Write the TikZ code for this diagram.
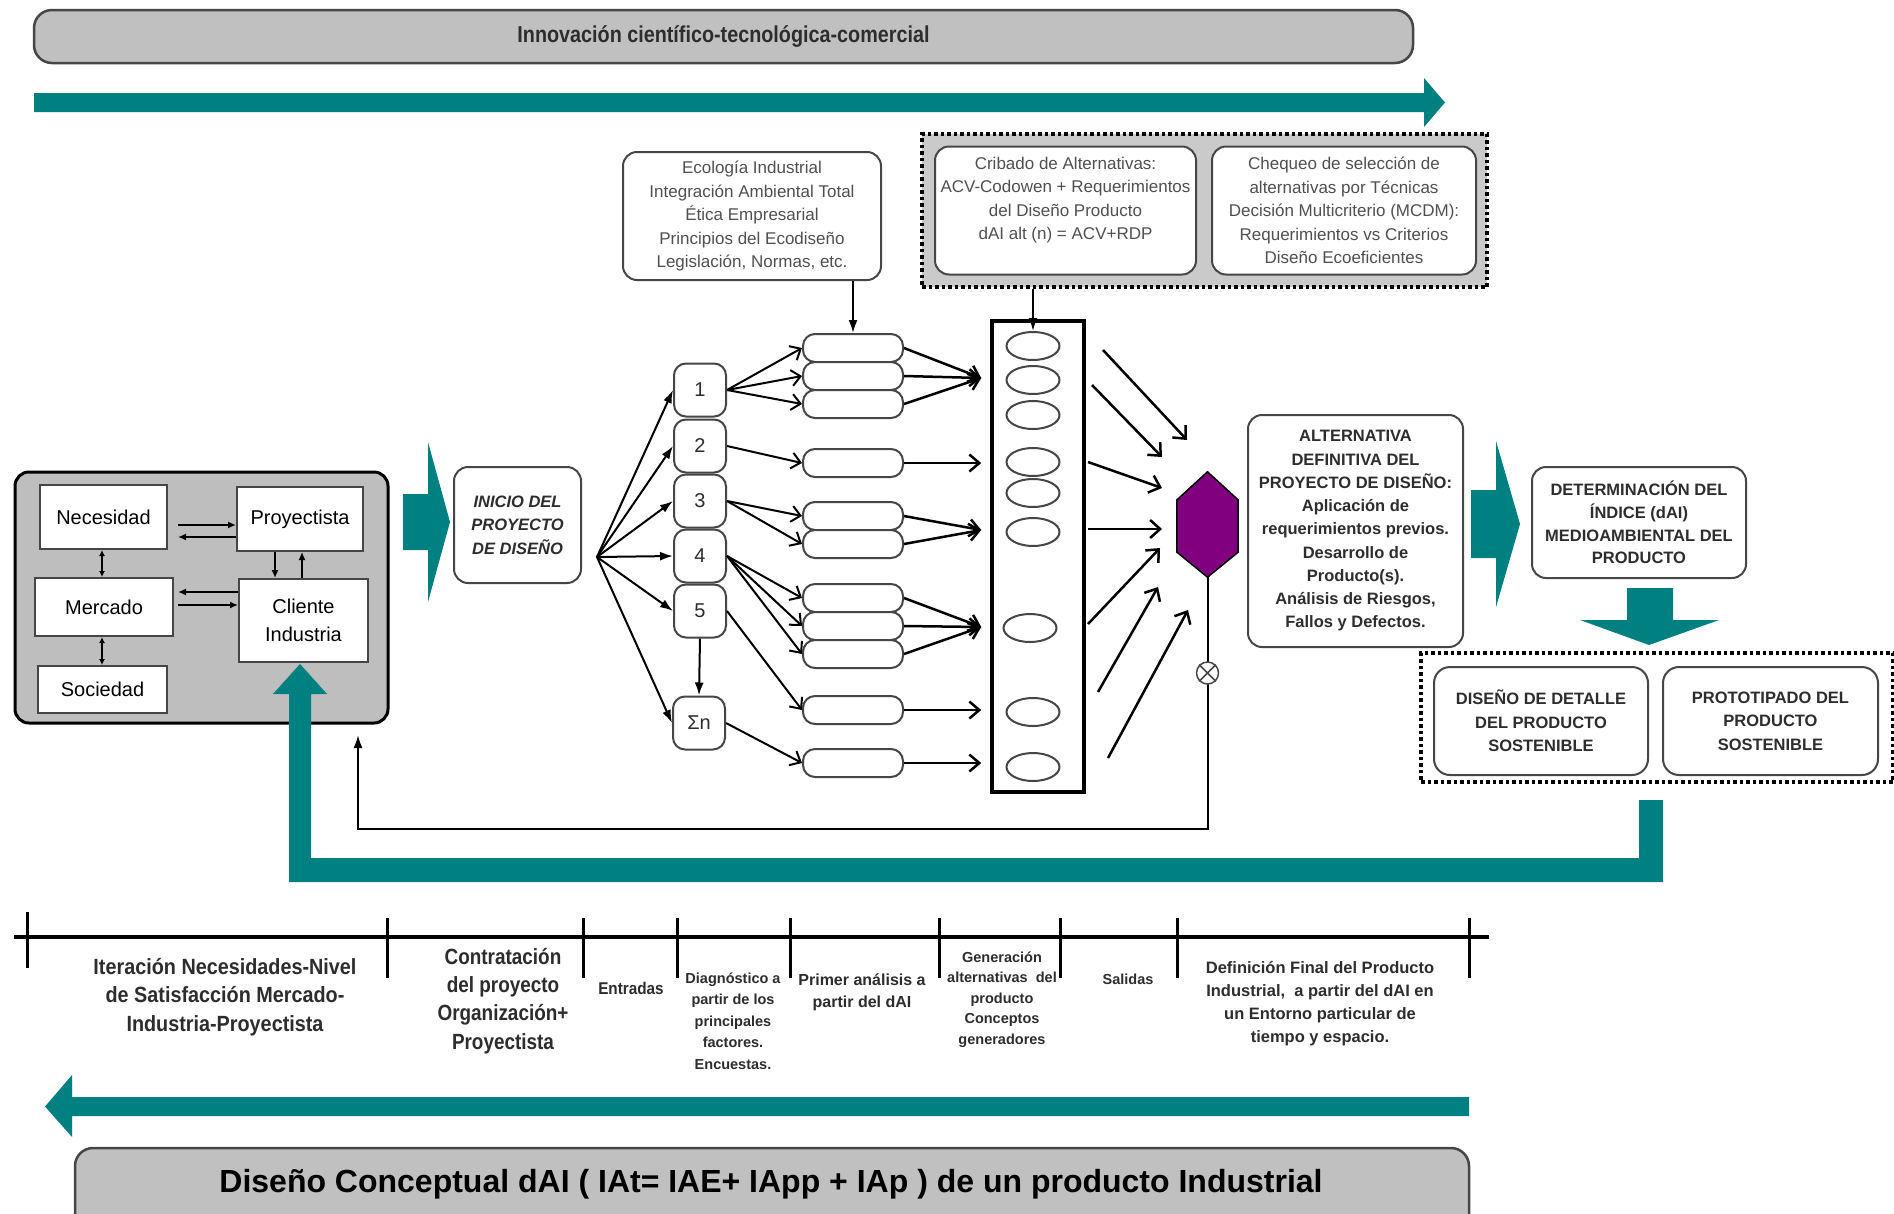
\documentclass[tikz,border=0pt]{standalone}
\usepackage{fontspec}
\setmainfont{Liberation Sans}
\usetikzlibrary{arrows.meta,calc,shapes.geometric}

\definecolor{tealc}{RGB}{0,128,128}
\definecolor{barg}{RGB}{192,192,192}
\definecolor{panelg}{RGB}{190,190,190}
\definecolor{dotg}{RGB}{202,202,202}
\definecolor{ink}{RGB}{45,45,45}
\definecolor{soft}{RGB}{80,80,80}
\definecolor{edge}{RGB}{70,70,70}
\definecolor{hexc}{RGB}{128,0,128}

\newcommand{\fs}[2]{\fontsize{#1}{#2}\selectfont}
\newcommand{\nrw}[2]{\scalebox{#1}[1]{#2}}

\tikzset{
  panel/.style={draw=black, line width=3pt, fill=panelg, rounded corners=14pt, inner sep=0pt},
  wbox/.style={draw=edge, line width=2pt, fill=white, inner sep=0pt},
  rbox/.style={wbox, rounded corners=14pt},
  pill/.style={wbox, rounded corners=12pt, minimum width=100pt, minimum height=28pt},
  numbox/.style={wbox, rounded corners=12pt, minimum width=52pt, minimum height=53pt, font=\fs{20}{24}, text=ink},
  oval/.style={ellipse, draw=edge, line width=2pt, minimum width=53pt, minimum height=28pt, inner sep=0pt},
  thinarr/.style={draw=black, line width=1.5pt, -{Latex[length=8pt,width=7pt]}},
  dblarr/.style={draw=black, line width=1.5pt, {Latex[length=6pt,width=6pt]}-{Latex[length=6pt,width=6pt]}},
  fanarr/.style={draw=black, line width=2pt, -{Latex[length=13pt,width=9pt]}},
  openarr/.style={draw=black, line width=2pt, -{Straight Barb[length=9pt,width=16pt]}},
  heavyarr/.style={draw=black, line width=2.5pt, -{Straight Barb[length=10pt,width=17pt]}},
  hexarr/.style={draw=black, line width=2.5pt, -{Straight Barb[length=10pt,width=18pt]}},
  dotframe/.style={draw=black, line width=3.5pt, dash pattern=on 3.5pt off 3pt, inner sep=0pt},
  banner/.style={draw=edge, line width=2.5pt, fill=barg, rounded corners=18pt, inner sep=0pt},
  tltext/.style={text=ink, align=center, inner sep=0pt},
}

\begin{document}
\begin{tikzpicture}[x=1pt,y=-1pt]
\useasboundingbox (0,0) rectangle (1894,1213);
\clip (0,0) rectangle (1894,1213);
\fill[white] (0,0) rectangle (1894,1213);

% ---------- top banner and forward arrow ----------
\node[banner, minimum width=1379pt, minimum height=53pt] (topbar) at (723.5,36.5)
  {\fs{23}{26}\bfseries\color{ink}\nrw{0.86}{Innovación científico-tecnológica-comercial}};
\fill[tealc] (34,93) -- (1424,93) -- (1424,78) -- (1445,102.5) -- (1424,127) -- (1424,112) -- (34,112) -- cycle;

% ---------- actors panel ----------
\node[panel, minimum width=373pt, minimum height=251pt] (panel) at (201.5,597.5) {};
\node[wbox, minimum width=127pt, minimum height=64pt, font=\fs{20}{28}] (nec) at (103.5,517) {Necesidad};
\node[wbox, minimum width=126pt, minimum height=64pt, font=\fs{20}{28}] (proy) at (300,519) {Proyectista};
\node[wbox, minimum width=138pt, minimum height=58pt, font=\fs{20}{28}] (merc) at (104,607) {Mercado};
\node[wbox, minimum width=129pt, minimum height=83pt, font=\fs{20}{28}, align=center] (cli) at (303.5,620.5) {Cliente\\Industria};
\node[wbox, minimum width=129pt, minimum height=47pt, font=\fs{20}{28}] (soc) at (102.5,689.5) {Sociedad};

\draw[thinarr] ([xshift=10pt]nec.east |- 0,525) -- (proy.west |- 0,525);
\draw[thinarr] (proy.west |- 0,537) -- ([xshift=10pt]nec.east |- 0,537);
\draw[thinarr] (cli.west |- 0,592) -- ([xshift=4pt]merc.east |- 0,592);
\draw[thinarr] ([xshift=4pt]merc.east |- 0,605) -- (cli.west |- 0,605);
\draw[dblarr] (nec.south -| 102,0) -- (merc.north -| 102,0);
\draw[dblarr] (merc.south -| 102,0) -- (soc.north -| 102,0);
\draw[thinarr] (proy.south -| 275,0) -- (cli.north -| 275,0);
\draw[thinarr] (cli.north -| 302,0) -- (proy.south -| 302,0);

% ---------- start of the design project ----------
\fill[tealc] (403,494) -- (428,494) -- (428,442) -- (450,522) -- (428,602) -- (428,550) -- (403,550) -- cycle;
\node[rbox, minimum width=127pt, minimum height=116pt, font=\fs{16.5}{23.5}\bfseries\itshape, text=ink, align=center] (ini) at (517.5,525)
  {INICIO DEL\\PROYECTO\\DE DISEÑO};

\coordinate (fan) at (597,557);
\node[numbox] (n1) at (700,390) {1};
\node[numbox] (n2) at (700,446) {2};
\node[numbox] (n3) at (700,501) {3};
\node[numbox] (n4) at (700,556) {4};
\node[numbox] (n5) at (700,611) {5};
\node[numbox] (nS) at (699,723) {Σn};
\foreach \b in {n1,n2,n3,n4,n5,nS} \draw[fanarr] (fan) -- (\b.west);
\draw[fanarr] (n5.south) -- (nS.north);

% ---------- alternatives ----------
\node[pill] (p1) at (853,348) {};
\node[pill] (p2) at (853,376) {};
\node[pill] (p3) at (853,404) {};
\node[pill] (p4) at (853,463) {};
\node[pill] (p5) at (853,516) {};
\node[pill] (p6) at (853,544) {};
\node[pill] (p7) at (853,598) {};
\node[pill] (p8) at (853,626) {};
\node[pill] (p9) at (853,654) {};
\node[pill] (p10) at (853,710) {};
\node[pill] (p11) at (853,763) {};

\draw[openarr] (n1.east) -- (p1.west);
\draw[openarr] (n1.east) -- (p2.west);
\draw[openarr] (n1.east) -- (p3.west);
\draw[openarr] (n2.east) -- (p4.west);
\draw[openarr] (n3.east) -- (p5.west);
\draw[openarr] (n3.east) -- (p6.west);
\draw[openarr] (n4.east) -- (p7.west);
\draw[openarr] (n4.east) -- (p8.west);
\draw[openarr] (n4.east) -- (p9.west);
\draw[openarr] (n5.east) -- (p10.west);
\draw[openarr] (nS.east) -- (p11.west);

% ---------- screening column ----------
\node[draw=black, line width=3.5pt, minimum width=92pt, minimum height=471pt, inner sep=0pt] (col) at (1038,556.5) {};
\node[oval] (e1) at (1033,346) {};
\node[oval] (e2) at (1033,380) {};
\node[oval] (e3) at (1033,415) {};
\node[oval] (e4) at (1033,462) {};
\node[oval] (e5) at (1033,493) {};
\node[oval] (e6) at (1033,532) {};
\node[oval] (e7) at (1030,628) {};
\node[oval] (e8) at (1033,712) {};
\node[oval] (e9) at (1033,767) {};

\coordinate (ca) at ([xshift=-9pt]col.west |- 0,378);
\coordinate (cb) at ([xshift=-9pt]col.west |- 0,463);
\coordinate (cc) at ([xshift=-9pt]col.west |- 0,530);
\coordinate (cd) at ([xshift=-9pt]col.west |- 0,627);
\coordinate (ce) at ([xshift=-9pt]col.west |- 0,710);
\coordinate (cf) at ([xshift=-9pt]col.west |- 0,763);
\foreach \p in {p1,p2,p3} \draw[heavyarr] (\p.east) -- (ca);
\draw[heavyarr] (p4.east) -- (cb);
\foreach \p in {p5,p6} \draw[heavyarr] (\p.east) -- (cc);
\foreach \p in {p7,p8,p9} \draw[heavyarr] (\p.east) -- (cd);
\draw[heavyarr] (p10.east) -- (ce);
\draw[heavyarr] (p11.east) -- (cf);

% ---------- inputs on top ----------
\node[rbox, minimum width=258pt, minimum height=128pt, font=\fs{17}{23.5}, text=soft, align=center] (eco) at (752,216)
  {Ecología Industrial\\Integración Ambiental Total\\Ética Empresarial\\Principios del Ecodiseño\\Legislación, Normas, etc.};
\node[dotframe, fill=dotg, minimum width=565pt, minimum height=153pt] (crit) at (1204.5,210.5) {};
\node[rbox, minimum width=261pt, minimum height=128pt] (crib) at (1065.5,210.5) {};
\node[anchor=north, inner sep=0pt, font=\fs{17}{23.5}, text=soft, align=center] (cribt) at ([yshift=-11pt]crib.north)
  {Cribado de Alternativas:\\ACV-Codowen + Requerimientos\\del Diseño Producto\\dAI alt (n) = ACV+RDP};
\node[rbox, minimum width=264pt, minimum height=128pt, font=\fs{17}{23.5}, text=soft, align=center] (cheq) at (1344,210.5)
  {Chequeo de selección de\\alternativas por Técnicas\\Decisión Multicriterio (MCDM):\\Requerimientos vs Criterios\\Diseño Ecoeficientes};
\draw[fanarr] (eco.south -| p1.north) -- (p1.north);
\draw[fanarr] (crit.south -| e1.north) -- (e1.north);

% ---------- final alternative ----------
\node[minimum width=61pt, minimum height=105pt, inner sep=0pt] (hex) at (1207.5,524.5) {};
\filldraw[fill=hexc, draw=black, line width=1.5pt]
  (hex.north) -- ($(hex.north east)!0.267!(hex.south east)$) -- ($(hex.north east)!0.762!(hex.south east)$)
  -- (hex.south) -- ($(hex.north west)!0.762!(hex.south west)$) -- ($(hex.north west)!0.267!(hex.south west)$) -- cycle;

\coordinate (h1s) at (1103,350); \coordinate (h1e) at (1187,440);
\coordinate (h2s) at (1092,385); \coordinate (h2e) at (1162,457);
\coordinate (h3s) at (1088,462); \coordinate (h3e) at (1162,488);
\coordinate (h4s) at (1088,529); \coordinate (h4e) at (1162,529);
\coordinate (h5s) at (1088,624); \coordinate (h5e) at (1160,548);
\coordinate (h6s) at (1098,692); \coordinate (h6e) at (1158,587);
\coordinate (h7s) at (1108,758); \coordinate (h7e) at (1188,610);
\foreach \i in {1,...,7} \draw[hexarr] (h\i s) -- (h\i e);

\coordinate (fbl) at (358,829);
\coordinate (fbt) at (358,735);
\draw[line width=2pt, -{Latex[length=13pt,width=9pt]}] (hex.south) -- (hex.south |- fbl) -- (fbl) -- (fbt);
\node[circle, draw=edge, line width=1.5pt, fill=white, minimum size=22pt, inner sep=0pt] (ox) at (hex.south |- 0,673) {};
\draw[edge, line width=1.5pt] (ox.north west) -- (ox.south east) (ox.north east) -- (ox.south west);

\node[rbox, minimum width=215pt, minimum height=232pt, font=\fs{16.5}{23.25}\bfseries, text=ink, align=center] (alt) at (1355.5,531)
  {ALTERNATIVA\\DEFINITIVA DEL\\PROYECTO DE DISEÑO:\\Aplicación de\\requerimientos previos.\\Desarrollo de\\Producto(s).\\Análisis de Riesgos,\\Fallos y Defectos.};

\fill[tealc] (1471,490) -- (1496,490) -- (1496,441) -- (1520,524) -- (1496,607) -- (1496,558) -- (1471,558) -- cycle;
\node[rbox, minimum width=214pt, minimum height=111pt, font=\fs{16.5}{22.7}\bfseries, text=ink, align=center] (det) at (1639,522.5)
  {DETERMINACIÓN DEL\\ÍNDICE (dAI)\\MEDIOAMBIENTAL DEL\\PRODUCTO};
\fill[tealc] (1627,588) -- (1673,588) -- (1673,620) -- (1719,620) -- (1649,645) -- (1580,620) -- (1627,620) -- cycle;

\node[dotframe, fill=white, minimum width=472pt, minimum height=129pt] (outbox) at (1657,717.5) {};
\node[rbox, rounded corners=16pt, minimum width=214pt, minimum height=108pt, font=\fs{16.5}{23.5}\bfseries, text=ink, align=center] (dd) at (1541,721)
  {DISEÑO DE DETALLE\\DEL PRODUCTO\\SOSTENIBLE};
\node[rbox, rounded corners=16pt, minimum width=215pt, minimum height=108pt, font=\fs{16.5}{23.5}\bfseries, text=ink, align=center] (proto) at (1770.5,721)
  {PROTOTIPADO DEL\\PRODUCTO\\SOSTENIBLE};

% ---------- return loop to the client ----------
\fill[tealc] (1663,800) -- (1663,882) -- (289,882) -- (289,694) -- (273,694) -- (300,664) -- (327,694)
  -- (311,694) -- (311,858) -- (1639,858) -- (1639,800) -- cycle;

% ---------- phase timeline ----------
\draw[line width=3.5pt] (14,937) -- (1489,937);
\draw[line width=3pt] (27,912) -- (27,968);
\foreach \x in {387,583,677,790,939,1060,1177,1469} \draw[line width=3pt] (\x,918) -- (\x,978);

\node[tltext, font=\fs{22}{28.5}\bfseries] (tl1) at (225,997)
  {\nrw{0.9}{\begin{tabular}{@{}c@{}}Iteración Necesidades-Nivel\\de Satisfacción Mercado-\\Industria-Proyectista\end{tabular}}};
\node[tltext, font=\fs{22}{28.3}\bfseries] (tl2) at (503,1001)
  {\nrw{0.86}{\begin{tabular}{@{}c@{}}Contratación\\del proyecto\\Organización+\\Proyectista\end{tabular}}};
\node[tltext, font=\fs{17}{21}\bfseries] (tl3) at (631,988) {\nrw{0.9}{Entradas}};
\node[tltext, font=\fs{14.5}{21.5}\bfseries] (tl4) at (733,1022)
  {\begin{tabular}{@{}c@{}}Diagnóstico a\\partir de los\\principales\\factores.\\Encuestas.\end{tabular}};
\node[tltext, font=\fs{16}{21.5}\bfseries] (tl5) at (862,992)
  {\begin{tabular}{@{}c@{}}Primer análisis a\\partir del dAI\end{tabular}};
\node[tltext, font=\fs{14.5}{20.5}\bfseries] (tl6) at (1002,999)
  {\begin{tabular}{@{}c@{}}Generación\\alternativas\ \ del\\producto\\Conceptos\\generadores\end{tabular}};
\node[tltext, font=\fs{14.5}{20}\bfseries] (tl7) at (1128,979) {Salidas};
\node[tltext, font=\fs{16.5}{23}\bfseries] (tl8) at (1320,1003)
  {\begin{tabular}{@{}c@{}}Definición Final del Producto\\Industrial,\ \ a partir del dAI en\\un Entorno particular de\\tiempo y espacio.\end{tabular}};

% ---------- backward arrow and bottom banner ----------
\fill[tealc] (1469,1097) -- (72,1097) -- (72,1075) -- (45,1106.5) -- (72,1137) -- (72,1116) -- (1469,1116) -- cycle;
\node[banner, minimum width=1394pt, minimum height=100pt] (botbar) at (772,1198) {};
\node[inner sep=0pt, font=\fs{32}{36}\bfseries] (bottxt) at (771,1184)
  {Diseño Conceptual dAI ( IAt= IAE+ IApp + IAp ) de un producto Industrial};
\end{tikzpicture}
\end{document}
